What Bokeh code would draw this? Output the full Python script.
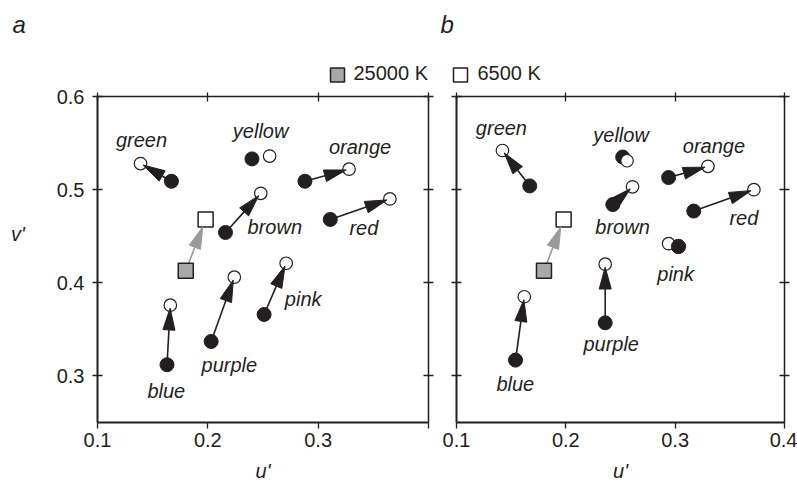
import math
from bokeh.plotting import figure
from bokeh.layouts import row, column
from bokeh.models import LinearAxis, FixedTicker, Range1d, ColumnDataSource
from bokeh.core.properties import value
from bokeh.embed import file_html
from bokeh.resources import INLINE

# ---------------- data ----------------
color_names = ["green", "yellow", "orange", "brown", "red", "pink", "purple", "blue"]

# panel a : chromaticity (u', v') under 25000 K (filled) and 6500 K (open)
a_u_25000 = [0.167, 0.240, 0.288, 0.216, 0.311, 0.251, 0.203, 0.163]
a_v_25000 = [0.509, 0.533, 0.509, 0.454, 0.468, 0.366, 0.337, 0.312]
a_u_6500 = [0.139, 0.256, 0.328, 0.248, 0.365, 0.271, 0.224, 0.166]
a_v_6500 = [0.528, 0.536, 0.522, 0.496, 0.490, 0.421, 0.406, 0.376]
a_arrow = [True, False, True, True, True, True, True, True]

# panel b
b_u_25000 = [0.167, 0.252, 0.294, 0.243, 0.317, 0.303, 0.236, 0.154]
b_v_25000 = [0.504, 0.535, 0.513, 0.484, 0.477, 0.439, 0.357, 0.317]
b_u_6500 = [0.142, 0.256, 0.330, 0.261, 0.372, 0.294, 0.236, 0.162]
b_v_6500 = [0.542, 0.531, 0.525, 0.503, 0.500, 0.442, 0.420, 0.385]
b_arrow = [True, False, True, True, True, False, True, True]
b_filled_front = [False, False, False, False, False, True, False, False]

# illuminant white points: 25000 K, 6500 K
white_u = [0.180, 0.198]
white_v = [0.413, 0.468]

x_ticks = [0.1, 0.2, 0.3, 0.4]
y_ticks = [0.3, 0.4, 0.5, 0.6]
legend_labels = ["25000 K", "6500 K"]
panel_letters = ["a", "b"]
x_title = "u'"
y_title = "v'"

# ---------------- layout / style ----------------
X0, X1, Y0, Y1 = 0.1, 0.4, 0.25, 0.6
W_PAGE, H_PAGE = 797, 484
HEAD = 84           # header strip (panel letters + legend)
FH = 328            # frame height
TOP_B, BOT_B = 12, 60
H = TOP_B + FH + BOT_B
INK = "#231f20"
GRAY = "#a8a8a8"
ARROW_GRAY = "#9a9a9a"
FONT = "Liberation Sans"
FIX20, FIX24 = 7, 8   # baseline correction (px) for 20px / 24px text

# label offsets (pixels, relative to the 6500 K point; +dy = down)
a_label_dx = [1, -9, 11, 14, -26, 17, -5, -4]
a_label_dy = [-17, -18, -15, 41, 36, 43, 95, 93]
b_label_dx = [-1, -6, 6, -10, -10, 7, 6, -9]
b_label_dy = [-16, -19, -13, 47, 35, 37, 87, 94]


def head_geometry(x0, y0, x1, y1, kx, ky, L=22.0, W=12.0, gap=3.0):
    """Arrow line end and triangular head, computed in pixel space from data."""
    px0, py0, px1, py1 = x0 * kx, y0 * ky, x1 * kx, y1 * ky
    dx, dy = px1 - px0, py1 - py0
    d = math.hypot(dx, dy)
    ux, uy = dx / d, dy / d
    tx, ty = px1 - gap * ux, py1 - gap * uy
    bx, by = tx - L * ux, ty - L * uy
    nx, ny = -uy, ux
    hx = [tx / kx, (bx + W / 2 * nx) / kx, (bx - W / 2 * nx) / kx]
    hy = [ty / ky, (by + W / 2 * ny) / ky, (by - W / 2 * ny) / ky]
    return (bx / kx, by / ky), hx, hy


def style_axis(ax, width, tin, tout, labels=True):
    ax.axis_line_color = INK
    ax.axis_line_width = width
    ax.major_tick_line_color = INK
    ax.major_tick_line_width = 1.3
    ax.major_tick_in = tin
    ax.major_tick_out = tout
    ax.minor_tick_line_color = None
    ax.major_label_text_font = FONT
    if labels:
        ax.major_label_text_color = INK
        ax.major_label_text_font_size = "20px"
    else:
        ax.major_label_text_color = None
        ax.major_label_text_font_size = "0px"
        ax.major_label_standoff = 0


def blank_figure(width, height, xr, yr):
    f = figure(width=width, height=height, x_range=xr, y_range=yr,
               x_axis_type=None, y_axis_type=None, title=None,
               output_backend="svg", toolbar_location=None,
               min_border_left=0, min_border_right=0,
               min_border_top=0, min_border_bottom=0)
    f.outline_line_color = None
    f.grid.visible = False
    return f


def make_panel(u25, v25, u65, v65, arrows, ldx, ldy, fw, bl, br,
               y_labels, bottom_overrides, front):
    width = bl + fw + br
    p = figure(width=width, height=H,
               x_range=Range1d(X0, X1), y_range=Range1d(Y0, Y1),
               x_axis_type=None, y_axis_type=None, title=None,
               output_backend="svg", toolbar_location=None,
               min_border_left=bl, min_border_right=br,
               min_border_top=TOP_B, min_border_bottom=BOT_B)
    p.outline_line_color = None
    p.background_fill_color = "white"
    p.border_fill_color = "white"

    kx = fw / (X1 - X0)
    ky = FH / (Y1 - Y0)

    # axes
    bottom = LinearAxis(ticker=FixedTicker(ticks=x_ticks),
                        major_label_overrides=bottom_overrides)
    style_axis(bottom, 2, 0, 6)
    bottom.major_label_standoff = 4
    bottom.axis_label = x_title
    bottom.axis_label_text_font = FONT
    bottom.axis_label_text_font_style = "italic"
    bottom.axis_label_text_font_size = "20px"
    bottom.axis_label_text_color = INK
    bottom.axis_label_standoff = 10
    p.add_layout(bottom, "below")
    left = LinearAxis(ticker=FixedTicker(ticks=y_ticks))
    style_axis(left, 2, 5, 5, labels=y_labels)
    if y_labels:
        left.major_label_standoff = 8
    p.add_layout(left, "left")
    top = LinearAxis(ticker=FixedTicker(ticks=x_ticks))
    style_axis(top, 1.5, 5, 4, labels=False)
    p.add_layout(top, "above")
    right = LinearAxis(ticker=FixedTicker(ticks=y_ticks))
    style_axis(right, 1.5, 5, 5, labels=False)
    p.add_layout(right, "right")

    # arrow geometry
    seg = dict(x0=[], y0=[], x1=[], y1=[])
    hxs, hys = [], []
    for i in range(len(u25)):
        if not arrows[i]:
            continue
        (ex, ey), hx, hy = head_geometry(u25[i], v25[i], u65[i], v65[i], kx, ky)
        seg["x0"].append(u25[i]); seg["y0"].append(v25[i])
        seg["x1"].append(ex); seg["y1"].append(ey)
        hxs.append(hx); hys.append(hy)
    (gex, gey), ghx, ghy = head_geometry(white_u[0], white_v[0], white_u[1], white_v[1],
                                         kx, ky, gap=8.0)

    p.segment(x0=[white_u[0]], y0=[white_v[0]], x1=[gex], y1=[gey],
              line_color=ARROW_GRAY, line_width=1.6)
    p.segment(x0="x0", y0="y0", x1="x1", y1="y1", source=ColumnDataSource(seg),
              line_color=INK, line_width=1.6)

    # points
    p.scatter(u25, v25, marker="circle", size=14, fill_color=INK, line_color=INK)
    p.scatter(u65, v65, marker="circle", size=12.5, fill_color="white",
              line_color=INK, line_width=1.2)
    fu = [u for u, f in zip(u25, front) if f]
    fv = [v for v, f in zip(v25, front) if f]
    if fu:
        p.scatter(fu, fv, marker="circle", size=14, fill_color=INK, line_color=INK)
    p.scatter([white_u[0]], [white_v[0]], marker="square", size=15,
              fill_color=GRAY, line_color=INK, line_width=1.5)
    p.scatter([white_u[1]], [white_v[1]], marker="square", size=15,
              fill_color="white", line_color=INK, line_width=1.5)

    # arrow heads
    p.patches(xs=[ghx], ys=[ghy], fill_color=ARROW_GRAY, line_color=ARROW_GRAY,
              line_width=1)
    p.patches(xs=hxs, ys=hys, fill_color=INK, line_color=INK, line_width=1)

    # colour names
    p.text(x=u65, y=v65, text=color_names, x_offset=ldx,
           y_offset=[d - FIX20 for d in ldy],
           text_font=value(FONT), text_font_style="italic",
           text_font_size="20px", text_color=INK,
           text_align="center", text_baseline="alphabetic")
    return p


# header strip: panel letters and the legend (page pixel coordinates)
header = blank_figure(W_PAGE, HEAD, Range1d(0, W_PAGE), Range1d(HEAD, 0))
header.text(x=[12, 440], y=[32 - FIX24, 32 - FIX24], text=panel_letters,
            text_font=value(FONT), text_font_style="italic",
            text_font_size="24px", text_color=INK,
            text_align="left", text_baseline="alphabetic")
header.scatter(x=[337, 460], y=[74.5, 74.5], marker="square", size=14,
               fill_color=[GRAY, "white"], line_color=INK, line_width=1.5)
header.text(x=[353, 477], y=[79.5 - FIX20, 79.5 - FIX20], text=legend_labels,
            text_font=value(FONT), text_font_size="20px", text_color=INK,
            text_align="left", text_baseline="alphabetic")

# side strip with the v' title
side = blank_figure(40, H, Range1d(0, 40), Range1d(H, 0))
side.text(x=[17.5], y=[260 - FIX20 - HEAD], text=[y_title], text_font=value(FONT),
          text_font_style="italic", text_font_size="20px", text_color=INK,
          text_align="center", text_baseline="alphabetic")

p1 = make_panel(a_u_25000, a_v_25000, a_u_6500, a_v_6500, a_arrow,
                a_label_dx, a_label_dy, 331, 57, 10, True,
                {0.4: ""}, [False] * 8)
p2 = make_panel(b_u_25000, b_v_25000, b_u_6500, b_v_6500, b_arrow,
                b_label_dx, b_label_dy, 328, 18, 13, False,
                {}, b_filled_front)

layout = column(header, row(side, p1, p2, spacing=0), spacing=0)
open("out.html", "w").write(file_html(layout, INLINE))
